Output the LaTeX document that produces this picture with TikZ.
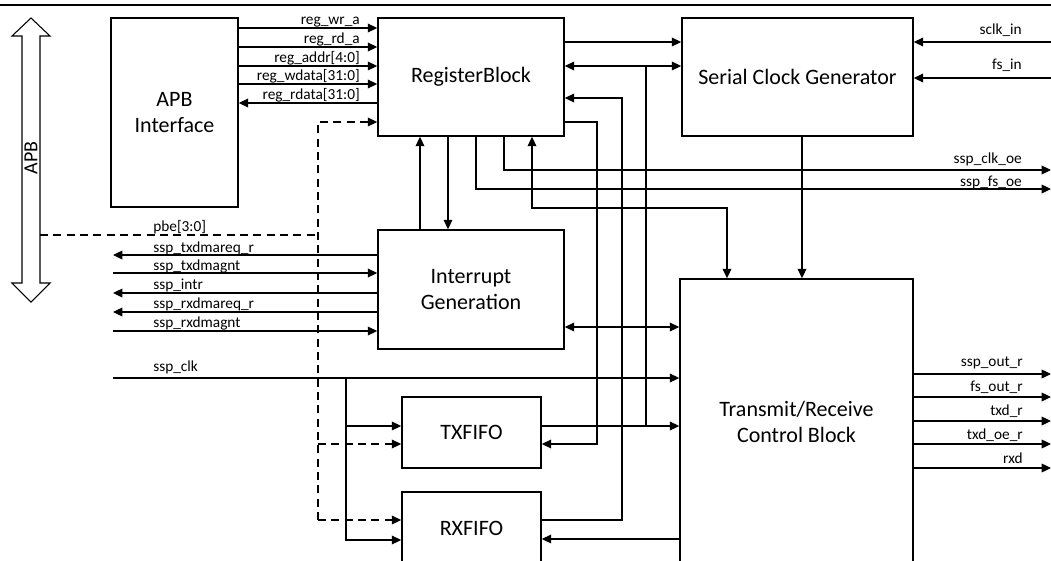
\documentclass[tikz,border=0pt]{standalone}
\usepackage{fontspec}
\setmainfont{Carlito}
\usetikzlibrary{arrows.meta}
\begin{document}
\begin{tikzpicture}[x=0.75pt,y=-0.75pt,
  blk/.style={draw,line width=1.2pt,inner sep=0pt,align=center,font=\fontsize{16.5}{20}\selectfont},
  wire/.style={line width=0.95pt},
  arr/.style={wire,-{Triangle[length=7pt,width=6.5pt]}},
  biarr/.style={wire,{Triangle[length=7pt,width=6.5pt]}-{Triangle[length=7pt,width=6.5pt]}},
  dsh/.style={wire,dash pattern=on 6pt off 4pt},
  sig/.style={font=\fontsize{11.5}{14}\selectfont,inner sep=0pt},
  sigL/.style={sig,anchor=base west},
  sigR/.style={sig,anchor=base east},
]
\useasboundingbox (0,0) rectangle (1051,561);
\clip (0,0) rectangle (1051,561);

% top rule
\draw[line width=2.2pt] (0,5) -- (1051,5);

% blocks
\node[blk, minimum width=0.75pt*127, minimum height=0.75pt*189] (apb) at (174.5,112.5) {APB\\Interface};
\node[blk, minimum width=0.75pt*186, minimum height=0.75pt*118] (rb) at (471,77) {RegisterBlock};
\node[blk, minimum width=0.75pt*231, minimum height=0.75pt*118] (scg) at (797.5,77) {Serial Clock Generator};
\node[blk, minimum width=0.75pt*186, minimum height=0.75pt*119] (ig) at (471,289.5) {Interrupt\\Generation};
\node[blk, minimum width=0.75pt*139, minimum height=0.75pt*71] (tx) at (471.5,432.5) {TXFIFO};
\node[blk, minimum width=0.75pt*139, minimum height=0.75pt*72] (rx) at (471.5,528) {RXFIFO};
\node[blk, minimum width=0.75pt*233, minimum height=0.75pt*286] (trcb) at (796.5,422) {Transmit/Receive\\Control Block};

% APB bus arrow
\draw[line width=0.8pt] (31,18) -- (50,36) -- (40,36) -- (40,283) -- (50,283) -- (31,302) -- (12,283) -- (22,283) -- (22,36) -- (12,36) -- cycle;
\node[rotate=90, font=\fontsize{15}{17}\selectfont, inner sep=0pt] (apblbl) at (31,158) {APB};

% APB interface <-> RegisterBlock
\foreach \y in {28,47,66,84}{\draw[arr] (apb.east |- 0,\y) -- (rb.west |- 0,\y);}
\draw[arr] (rb.west |- 0,103) -- (apb.east |- 0,103);
\node[sigR] (t1) at (360,24) {reg\_wr\_a};
\node[sigR] (t2) at (360,43) {reg\_rd\_a};
\node[sigR] (t3) at (360,62) {reg\_addr[4:0]};
\node[sigR] (t4) at (360,80) {reg\_wdata[31:0]};
\node[sigR] (t5) at (360,99) {reg\_rdata[31:0]};

% pbe dashed
\coordinate (pbe0) at (40,235);
\draw[dsh] (pbe0) -- (318,235);
\draw[dsh,-{Triangle[length=7pt,width=6.5pt]}] (318,520) -- (318,122) -- (rb.west |- 0,122);
\draw[dsh,-{Triangle[length=7pt,width=6.5pt]}] (318,444) -- (tx.west |- 0,444);
\draw[dsh,-{Triangle[length=7pt,width=6.5pt]}] (318,520) -- (rx.west |- 0,520);
\node[sigL] (tpbe) at (153,231) {pbe[3:0]};

% RegisterBlock <-> Serial Clock Generator
\draw[arr] (rb.east |- 0,42) -- (scg.west |- 0,42);
\coordinate (jtx) at (646,66);
\draw[arr] (jtx) -- (rb.east |- jtx);
\draw[arr] (jtx) -- (scg.west |- jtx);
\draw[arr] (tx.east |- 0,426) -- (trcb.west |- 0,426);
\draw[wire] (646,426) -- (jtx);
\draw[arr] (rx.east |- 0,520) -| (622,98) -- (rb.east |- 0,98);
\draw[arr] (rb.east |- 0,122) -| (597,444) -- (tx.east |- 0,444);

% RegisterBlock <-> Interrupt Generation
\draw[arr] (ig.north -| 420,0) -- (rb.south -| 420,0);
\draw[arr] (rb.south -| 448,0) -- (ig.north -| 448,0);

% output enables
\coordinate (clkoe) at (1051,170);
\coordinate (fsoe) at (1051,189);
\draw[arr] (rb.south -| 504,0) |- (clkoe);
\draw[arr] (rb.south -| 476,0) |- (fsoe);
\node[sigR] (tclkoe) at (1022,163) {ssp\_clk\_oe};
\node[sigR] (tfsoe) at (1022,186) {ssp\_fs\_oe};

\draw[biarr] (rb.south -| 532,0) -- (532,208) -| (trcb.north -| 727,0);
\draw[arr] (scg.south -| 802,0) -- (trcb.north -| 802,0);

% clock inputs
\coordinate (sclkin) at (1051,42);
\coordinate (fsin) at (1051,78);
\draw[arr] (sclkin) -- (scg.east |- sclkin);
\draw[arr] (fsin) -- (scg.east |- fsin);
\node[sigR] (tsclk) at (1022,34) {sclk\_in};
\node[sigR] (tfsin) at (1022,69) {fs\_in};

% interrupt / dma signals
\coordinate (s1) at (113,255);
\coordinate (s2) at (113,273);
\coordinate (s3) at (113,293);
\coordinate (s4) at (113,312);
\coordinate (s5) at (113,331);
\draw[arr] (ig.west |- s1) -- (s1);
\draw[arr] (s2) -- (ig.west |- s2);
\draw[arr] (ig.west |- s3) -- (s3);
\draw[arr] (ig.west |- s4) -- (s4);
\draw[arr] (s5) -- (ig.west |- s5);
\node[sigL] (ts1) at (153,252) {ssp\_txdmareq\_r};
\node[sigL] (ts2) at (153,270) {ssp\_txdmagnt};
\node[sigL] (ts3) at (153,289) {ssp\_intr};
\node[sigL] (ts4) at (153,308) {ssp\_rxdmareq\_r};
\node[sigL] (ts5) at (153,327) {ssp\_rxdmagnt};

\draw[biarr] (ig.east |- 0,327) -- (trcb.west |- 0,327);

% ssp_clk
\coordinate (clk) at (113,378);
\draw[arr] (clk) -- (trcb.west |- clk);
\draw[arr] (346,378) |- (rx.west |- 0,540);
\draw[arr] (346,426) -- (tx.west |- 0,426);
\node[sigL] (tclk) at (153,371) {ssp\_clk};

\draw[arr] (trcb.west |- 0,539) -- (rx.east |- 0,539);

% TRCB outputs
\foreach \y/\b/\t in {374/366/ssp\_out\_r, 397/391/fs\_out\_r, 421/415/txd\_r, 444/439/txd\_oe\_r, 468/463/rxd}{
  \coordinate (o\y) at (1051,\y);
  \draw[arr] (trcb.east |- o\y) -- (o\y);
  \node[sigR] (to\y) at (1023,\b) {\t};
}
\end{tikzpicture}
\end{document}
